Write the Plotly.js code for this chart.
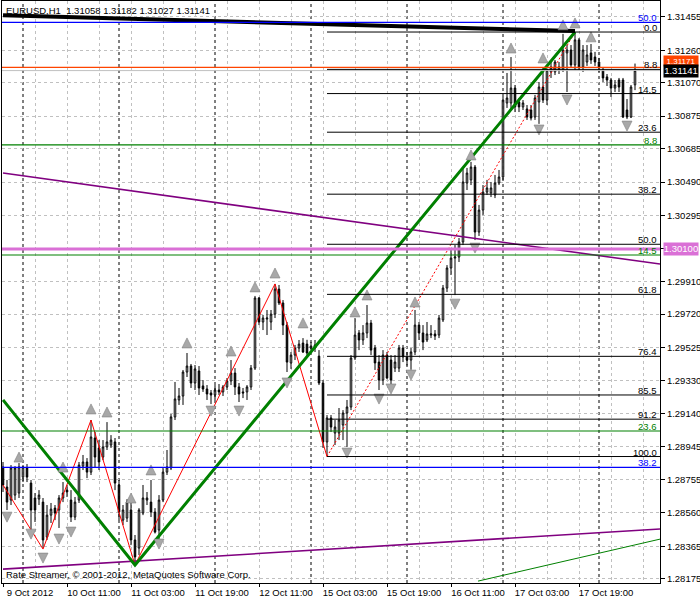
<!DOCTYPE html>
<html><head><meta charset="utf-8">
<script src="https://cdn.plot.ly/plotly-3.0.1.min.js"></script>
<style>html,body{margin:0;padding:0;background:#fff}#chart{width:700px;height:600px}</style>
</head><body><div id="chart"></div>
<script>
// ---- OHLC (EURUSD H1, bar index 0 = 9 Oct 2012 19:00) ----
const open = [1.28828,1.28711,1.28635,1.28664,1.28676,1.28769,1.28822,1.28734,1.28647,1.28641,
1.28623,1.28419,1.28547,1.28588,1.28577,1.28647,1.28693,1.28635,1.28536,1.28635,
1.28833,1.28857,1.28798,1.28997,1.28939,1.28886,1.28945,1.28956,1.28974,1.28723,
1.28518,1.28530,1.28577,1.28402,1.28355,1.28559,1.28635,1.28623,1.28565,1.28460,
1.28635,1.28798,1.28822,1.29120,1.29219,1.29242,1.29382,1.29417,1.29318,1.29388,
1.29301,1.29283,1.29260,1.29248,1.29277,1.29266,1.29295,1.29330,1.29376,1.29295,
1.29266,1.29266,1.29295,1.29405,1.29814,1.29674,1.29691,1.29674,1.29720,1.29866,
1.29785,1.29656,1.29435,1.29481,1.29522,1.29551,1.29545,1.29522,1.29522,1.29475,
1.29318,1.28974,1.29114,1.29026,1.29026,1.29073,1.29143,1.29178,1.29464,1.29610,
1.29569,1.29610,1.29668,1.29522,1.29440,1.29335,1.29481,1.29452,1.29405,1.29405,
1.29522,1.29470,1.29452,1.29499,1.29656,1.29610,1.29569,1.29598,1.29604,1.29598,
1.29686,1.29872,1.29989,1.30047,1.30053,1.30141,1.30485,1.30503,1.30578,1.30199,
1.30327,1.30432,1.30427,1.30415,1.30485,1.30520,1.30952,1.30952,1.31039,1.30958,
1.30929,1.30917,1.30911,1.30870,1.30958,1.31045,1.30969,1.31133,1.31133,1.31144,
1.31144,1.31244,1.31261,1.31174,1.31320,1.31162,1.31191,1.31244,1.31220,1.31191,
1.31144,1.31104,1.31086,1.31039,1.31086,1.31086,1.30911,1.30870,1.31058];
const high = [1.28857,1.28752,1.28839,1.28833,1.28851,1.28839,1.28845,1.28752,1.28676,1.28693,
1.28647,1.28606,1.28618,1.28606,1.28664,1.28740,1.28723,1.28693,1.28653,1.28857,
1.28898,1.28880,1.29102,1.29032,1.28985,1.28985,1.29090,1.29014,1.28997,1.28752,
1.28606,1.28640,1.28660,1.28431,1.28588,1.28723,1.28682,1.28752,1.28588,1.28664,
1.28822,1.28927,1.29137,1.29324,1.29289,1.29394,1.29493,1.29429,1.29423,1.29417,
1.29335,1.29306,1.29277,1.29306,1.29312,1.29306,1.29347,1.29452,1.29405,1.29318,
1.29289,1.29306,1.29423,1.29826,1.29820,1.29715,1.29744,1.29744,1.29896,1.29890,
1.29802,1.29674,1.29499,1.29540,1.29569,1.29580,1.29570,1.29557,1.29569,1.29510,
1.29335,1.29131,1.29131,1.29102,1.29172,1.29160,1.29219,1.29481,1.29697,1.29627,
1.29656,1.29773,1.29686,1.29540,1.29481,1.29510,1.29499,1.29481,1.29481,1.29540,
1.29540,1.29499,1.29522,1.29744,1.29674,1.29656,1.29674,1.29656,1.29627,1.29715,
1.29890,1.30006,1.30094,1.30123,1.30164,1.30573,1.30573,1.30608,1.30590,1.30357,
1.30473,1.30503,1.30491,1.30532,1.30561,1.30987,1.31127,1.31220,1.31057,1.30981,
1.30969,1.30940,1.30940,1.30999,1.31074,1.31156,1.31150,1.31191,1.31203,1.31191,
1.31355,1.31290,1.31290,1.31366,1.31331,1.31290,1.31290,1.31296,1.31250,1.31215,
1.31162,1.31121,1.31098,1.31086,1.31098,1.31098,1.30975,1.31057,1.31182];
const low = [1.28682,1.28577,1.28606,1.28635,1.28647,1.28740,1.28740,1.28460,1.28507,1.28606,
1.28355,1.28402,1.28501,1.28518,1.28472,1.28623,1.28653,1.28507,1.28518,1.28618,
1.28810,1.28763,1.28781,1.28822,1.28810,1.28868,1.28927,1.28939,1.28693,1.28518,
1.28489,1.28507,1.28372,1.28256,1.28314,1.28547,1.28606,1.28536,1.28440,1.28395,
1.28623,1.28781,1.28810,1.29102,1.29190,1.29190,1.29353,1.29289,1.29277,1.29248,
1.29266,1.29219,1.29195,1.29219,1.29248,1.29242,1.29277,1.29306,1.29248,1.29207,
1.29230,1.29219,1.29277,1.29394,1.29656,1.29627,1.29598,1.29627,1.29697,1.29773,
1.29598,1.29382,1.29400,1.29452,1.29499,1.29493,1.29464,1.29510,1.29499,1.29306,
1.28939,1.28889,1.29032,1.28956,1.28985,1.28985,1.28945,1.29160,1.29452,1.29510,
1.29540,1.29580,1.29481,1.29394,1.29277,1.29306,1.29340,1.29312,1.29382,1.29382,
1.29440,1.29420,1.29395,1.29481,1.29569,1.29510,1.29557,1.29580,1.29569,1.29580,
1.29674,1.29849,1.29948,1.29831,1.30024,1.30123,1.30444,1.30473,1.30152,1.30176,
1.30298,1.30415,1.30403,1.30397,1.30473,1.30503,1.30923,1.30923,1.30899,1.30899,
1.30911,1.30853,1.30850,1.30853,1.30830,1.30952,1.30940,1.31098,1.31115,1.31121,
1.31133,1.31016,1.31156,1.31144,1.31144,1.31133,1.31168,1.31180,1.31168,1.31133,
1.31074,1.31051,1.30987,1.31016,1.31016,1.30864,1.30858,1.30864,1.31027];
const close = [1.28723,1.28623,1.28822,1.28822,1.28828,1.28828,1.28769,1.28577,1.28577,1.28664,
1.28402,1.28547,1.28582,1.28559,1.28647,1.28676,1.28682,1.28536,1.28623,1.28839,
1.28857,1.28798,1.29003,1.28886,1.28857,1.28945,1.28974,1.28985,1.28734,1.28565,
1.28577,1.28623,1.28402,1.28303,1.28577,1.28647,1.28647,1.28565,1.28448,1.28635,
1.28798,1.28828,1.29120,1.29225,1.29242,1.29382,1.29417,1.29318,1.29400,1.29289,
1.29283,1.29254,1.29248,1.29277,1.29266,1.29295,1.29330,1.29376,1.29295,1.29254,
1.29260,1.29295,1.29405,1.29814,1.29674,1.29697,1.29697,1.29720,1.29866,1.29785,
1.29656,1.29440,1.29481,1.29522,1.29545,1.29499,1.29493,1.29534,1.29540,1.29318,
1.28974,1.29114,1.29061,1.29061,1.29102,1.29143,1.29178,1.29464,1.29598,1.29569,
1.29610,1.29668,1.29510,1.29435,1.29335,1.29481,1.29347,1.29335,1.29440,1.29522,
1.29470,1.29452,1.29499,1.29656,1.29610,1.29557,1.29604,1.29604,1.29592,1.29697,
1.29872,1.29989,1.30047,1.30053,1.30141,1.30491,1.30543,1.30578,1.30199,1.30327,
1.30432,1.30456,1.30456,1.30485,1.30520,1.30969,1.30981,1.31039,1.30929,1.30929,
1.30952,1.30870,1.30864,1.30981,1.31045,1.30969,1.31144,1.31162,1.31191,1.31162,
1.31261,1.31261,1.31174,1.31320,1.31162,1.31261,1.31232,1.31203,1.31191,1.31156,
1.31098,1.31086,1.31039,1.31057,1.31045,1.30870,1.30870,1.31045,1.31141];

// ---- axes ----
const tickBars = [0,16,32,48,64,80,96,112,128,144];
const tickLabels = ['9 Oct 2012','10 Oct 11:00','11 Oct 03:00','11 Oct 19:00','12 Oct 11:00',
  '15 Oct 03:00','15 Oct 19:00','16 Oct 11:00','17 Oct 03:00','17 Oct 19:00'];
const minorGridBars = [8,24,40,56,72,88,104,120,136,152,160];
const separatorBars = [5,29,53,77,101,125,149];
const priceTicks = [1.31455,1.31260,1.31070,1.30875,1.30685,1.30490,1.30295,1.30100,1.29910,
  1.29720,1.29525,1.29330,1.29140,1.28945,1.28755,1.28560,1.28365,1.28175];
const xRange = [-0.25, 164.25];
const yRange = [1.28151, 1.31547];

// ---- Fibonacci (black) ----
const fibHigh = 1.31366, fibLow = 1.28889, fibStartBar = 81;
const fibLevels = [0,8.8,14.5,23.6,38.2,50,61.8,76.4,85.5,91.2,100];
// ---- other level lines ----
const greenLevelPrices = [1.30707,1.30065,1.29038];
const greenLevelLabels = ['8.8','14.5','23.6'];
const blueLevelPrices = [1.31422,1.28826];
const blueLevelLabels = ['50.0','38.2'];
const hLinePrice = 1.30100;
const askLinePrice = 1.31160, askLabel = 1.31171;
const bidPrice = 1.31141;

// ---- trend lines (bar, price) ----
const blackThickBars = [0,143], blackThickPrices = [1.31464,1.31372];
const purpleUpperBars = [0,164.25], purpleUpperPrices = [1.30543,1.30012];
const purpleLowerBars = [0,164.25], purpleLowerPrices = [1.28232,1.28466];
const greenThinBars = [118.75,164.25], greenThinPrices = [1.28162,1.28407];
const greenVBars = [0,33,143], greenVPrices = [1.29219,1.28256,1.31366];
const zigzagBars = [0,10,22,33,68,81], zigzagPrices = [1.28723,1.28349,1.29102,1.28256,1.29896,1.28889];
const zigzagDotBars = [81,143], zigzagDotPrices = [1.28889,1.31366];

// ---- fractals (arrow tips) ----
const fracUpBars = [4,15,22,26,32,37,46,57,63,68,75,88,91,103,117,127,135,140,143,147];
const fracUpPrices = [1.28915,1.28857,1.29196,1.29178,1.28676,1.28840,1.29581,1.29534,1.29908,1.29989,
  1.29698,1.29762,1.29861,1.29820,1.30678,1.31302,1.31244,1.31437,1.31448,1.31367];
const fracDownBars = [1,7,10,14,17,39,52,59,71,86,94,97,102,113,118,134,141,156];
const fracDownPrices = [1.28506,1.28407,1.28267,1.28378,1.28419,1.28349,1.29125,1.29125,1.29289,1.28880,
  1.29195,1.29254,1.29335,1.29749,1.30076,1.30765,1.30940,1.30788];

const barIndex = open.map((_, i) => i);
const FONT = 'Liberation Sans, Arial, sans-serif';
const GRID = '#c0c0c0';

function line(x, y, color, width, dash) {
  return {type:'scatter', mode:'lines', x, y, hoverinfo:'skip',
    line:{color, width, dash: dash || 'solid'}};
}

const traces = [
  {type:'candlestick', x:barIndex, open, high, low, close, hoverinfo:'skip',
   whiskerwidth:0,
   increasing:{line:{color:'#000', width:1}, fillcolor:'#fff'},
   decreasing:{line:{color:'#000', width:1}, fillcolor:'#000'}},
  line(purpleUpperBars, purpleUpperPrices, '#800080', 1.6),
  line(purpleLowerBars, purpleLowerPrices, '#800080', 1.6),
  line(greenThinBars, greenThinPrices, '#008000', 1),
  line(zigzagBars, zigzagPrices, '#ff0000', 1),
  line(zigzagDotBars, zigzagDotPrices, '#ff0000', 1, '2px,2px'),
  line(greenVBars, greenVPrices, '#008000', 3),
  line(blackThickBars, blackThickPrices, '#000', 4),
  {type:'scatter', mode:'markers', x:fracUpBars, y:fracUpPrices, hoverinfo:'skip',
   marker:{symbol:'arrow-up', size:10, color:'#a8a8a8', line:{color:'#808080', width:0.6}}},
  {type:'scatter', mode:'markers', x:fracDownBars, y:fracDownPrices, hoverinfo:'skip',
   marker:{symbol:'arrow-down', size:10, color:'#a8a8a8', line:{color:'#808080', width:0.6}}}
];

const shapes = [];
const annotations = [];
separatorBars.forEach(b => shapes.push({type:'line', layer:'below', xref:'x', yref:'paper',
  x0:b, x1:b, y0:0, y1:1, line:{color:'#000', width:1, dash:'3px,3px'}}));

function hline(price, color, width, xref, x0, x1) {
  shapes.push({type:'line', layer:'above', xref, yref:'y', x0, x1, y0:price, y1:price,
    line:{color, width}});
}
function levelLabel(price, text, color) {
  annotations.push({xref:'paper', x:1, xanchor:'right', xshift:-2, yref:'y', y:price,
    yanchor:'bottom', yshift:-2, text, showarrow:false, borderpad:0,
    font:{family:FONT, size:9.5, color}});
}

hline(bidPrice, '#c0c0c0', 1, 'paper', 0, 1);
fibLevels.forEach(l => {
  const p = fibHigh - (fibHigh - fibLow) * l / 100;
  hline(p, '#000', 1, 'x', fibStartBar, xRange[1]);
  levelLabel(p, l.toFixed(1), '#000');
});
greenLevelPrices.forEach((p, i) => { hline(p, '#008000', 1.2, 'paper', 0, 1); levelLabel(p, greenLevelLabels[i], '#008000'); });
blueLevelPrices.forEach((p, i) => { hline(p, '#0000ff', 1.3, 'paper', 0, 1); levelLabel(p, blueLevelLabels[i], '#0000ff'); });
hline(askLinePrice, '#ff4500', 1.2, 'paper', 0, 1);
hline(hLinePrice, '#da70d6', 3, 'paper', 0, 1);

function priceTag(price, text, bg, size, yshift) {
  annotations.push({xref:'paper', x:1, xanchor:'left', xshift:3, yref:'y', y:price, yanchor:'middle',
    yshift: yshift || 0, height: size + 2, valign:'middle',
    text, showarrow:false, bgcolor:bg, borderpad:0, width:34,
    font:{family:FONT, size, color:'#fff'}});
}
// ask tag sits in the small gap between the 1.31260 tick and the bid tag
priceTag(askLabel, askLabel.toFixed(5), '#ff4500', 8, 4.5);
priceTag(bidPrice, bidPrice.toFixed(5), '#000', 9.5, -0.5);
priceTag(hLinePrice, hLinePrice.toFixed(5), '#da70d6', 9.5, 0);

annotations.push({xref:'paper', yref:'paper', x:0, y:1, xanchor:'left', yanchor:'top', xshift:3, yshift:-3,
  text:'EURUSD,H1\u00a0\u00a01.31058 1.31182 1.31027 1.31141', showarrow:false, borderpad:0,
  font:{family:FONT, size:9.5, color:'#000'}});
annotations.push({xref:'paper', yref:'paper', x:0, y:0, xanchor:'left', yanchor:'bottom', xshift:3, yshift:2,
  text:'Rate Streamer, \u00a9 2001-2012, MetaQuotes Software Corp.', showarrow:false, borderpad:0,
  font:{family:FONT, size:9.5, color:'#000'}});

// the 1.30100 tick sits under the horizontal-line price tag, as in the reference
const priceTickText = priceTicks.map(v => v === hLinePrice ? '' : v.toFixed(5));

const layout = {
  width:700, height:600,
  margin:{l:2, r:40, t:1, b:17, pad:0},
  paper_bgcolor:'#fff', plot_bgcolor:'#fff',
  showlegend:false, boxgap:0.45,
  font:{family:FONT, size:9.5, color:'#000'},
  xaxis:{range:xRange, tickmode:'array', tickvals:tickBars, ticktext:tickLabels,
    ticks:'outside', ticklen:3, tickcolor:'#000', ticklabelshift:27, ticklabelstandoff:-2,
    showgrid:true, gridcolor:GRID, griddash:'3px,3px', gridwidth:1,
    minor:{tickmode:'array', tickvals:minorGridBars, showgrid:true, gridcolor:GRID, griddash:'3px,3px', ticks:''},
    showline:true, linecolor:'#000', linewidth:1, mirror:true, zeroline:false,
    rangeslider:{visible:false}, fixedrange:true,
    tickfont:{family:FONT, size:9.5, color:'#000'}},
  yaxis:{side:'right', range:yRange, tickmode:'array', tickvals:priceTicks,
    ticktext:priceTickText,
    ticks:'outside', ticklen:4, tickcolor:'#000',
    showgrid:true, gridcolor:GRID, griddash:'3px,3px', gridwidth:1,
    showline:true, linecolor:'#000', linewidth:1, mirror:true, zeroline:false, fixedrange:true,
    tickfont:{family:FONT, size:9.5, color:'#000'}},
  shapes, annotations
};

Plotly.newPlot('chart', traces, layout, {staticPlot:true, displayModeBar:false});
</script></body></html>
